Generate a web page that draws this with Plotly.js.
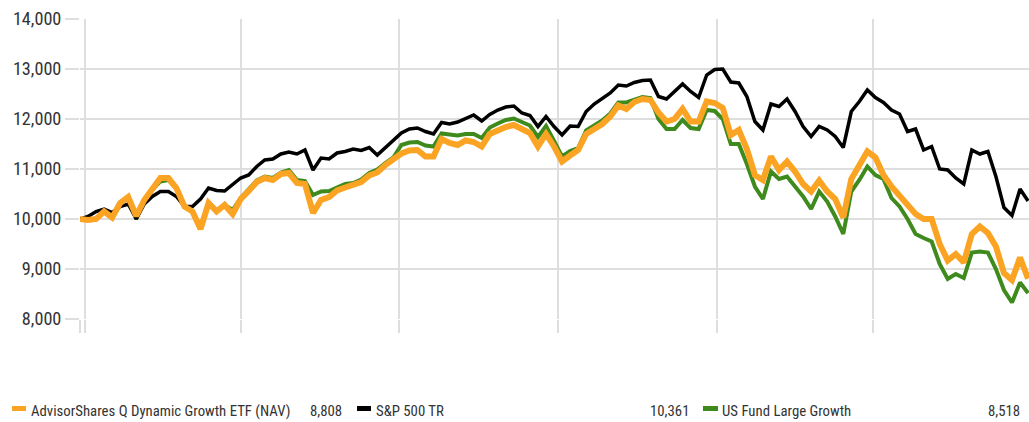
<!DOCTYPE html>
<html>
<head>
<meta charset="utf-8">
<script src="https://cdn.plot.ly/plotly-3.0.1.min.js"></script>
<style>html,body{margin:0;padding:0;background:#fff;}#chart{width:1029px;height:422px;}</style>
</head>
<body>
<div id="chart"></div>
<script>
// Growth of 10,000 — samples every ~4.64 days from 2020-12-28 to 2022-06-29
const startDate = '2020-12-28 22:30';
const endDate = '2022-06-30 02:00';
const stepDays = 4.6407;
const quarterTicks = ['2020-12-28 22:30','2021-01-01','2021-04-01','2021-07-01','2021-10-01','2022-01-01','2022-04-01'];
const yTicks = [8000, 9000, 10000, 11000, 12000, 13000, 14000];

const seriesNames = ['AdvisorShares Q Dynamic Growth ETF (NAV)', 'S&P 500 TR', 'US Fund Large Growth'];

const advisorShares = [10000,9980,10000,10150,10030,10320,10440,10060,10380,10620,10820,10820,10620,10250,10150,9800,10320,10150,10280,10100,
10400,10560,10740,10820,10780,10900,10920,10720,10700,10120,10380,10440,10570,10630,10670,10740,10870,10930,11080,11180,
11310,11370,11380,11250,11250,11600,11520,11480,11570,11540,11450,11700,11780,11840,11880,11790,11720,11450,11700,11450,
11150,11270,11380,11700,11800,11900,12050,12270,12200,12340,12400,12380,12130,11950,12000,12200,11950,11950,12350,12320,
12220,11680,11780,11400,10880,10780,11250,10980,11150,10950,10700,10550,10770,10550,10400,10030,10800,11050,11350,11230,
10880,10650,10470,10280,10100,10000,10000,9500,9170,9300,9130,9700,9850,9720,9450,8920,8780,9230,8808];

const sp500TR = [10000,10050,10150,10200,10130,10250,10300,10000,10300,10450,10550,10550,10450,10250,10250,10400,10620,10570,10560,10680,
10820,10880,11050,11180,11200,11300,11340,11300,11380,10980,11220,11200,11320,11350,11400,11370,11430,11280,11420,11570,
11720,11800,11820,11750,11700,11930,11900,11940,12010,12080,11960,12090,12180,12240,12260,12120,12070,11850,12050,11850,
11680,11860,11850,12150,12300,12400,12520,12680,12660,12730,12770,12780,12450,12400,12560,12700,12550,12430,12880,12990,
13000,12740,12720,12450,11950,11780,12300,12250,12400,12150,11850,11650,11850,11780,11650,11430,12150,12350,12580,12430,
12330,12180,12100,11750,11800,11380,11450,11000,10980,10820,10700,11380,11300,11350,10850,10230,10070,10600,10361];

const usFundLargeGrowth = [10000,9980,10000,10150,10030,10300,10420,10000,10350,10580,10750,10780,10600,10250,10150,9850,10330,10170,10280,10180,
10420,10590,10770,10850,10820,10930,10980,10780,10760,10480,10550,10560,10640,10700,10720,10790,10920,10990,11120,11230,
11480,11530,11540,11470,11450,11710,11690,11670,11700,11700,11620,11830,11910,11980,12010,11940,11870,11640,11860,11560,
11250,11360,11420,11770,11880,11970,12110,12330,12330,12380,12440,12420,12000,11800,11800,11980,11820,11800,12180,12160,
12000,11500,11500,11100,10650,10400,10950,10800,10850,10650,10450,10200,10550,10350,10050,9700,10550,10780,11050,10880,
10800,10420,10250,10000,9700,9620,9550,9100,8800,8900,8820,9330,9350,9330,9000,8580,8330,8730,8518];

const colors = {orange: '#fba424', black: '#000000', green: '#3f8a1d'};
const gridColor = '#dedede';
const textColor = '#333333';

// pick the narrowest installed sans family, then size text so widths match the reference
const ctx = document.createElement('canvas').getContext('2d');
function hasFont(name) {
  const s = 'AdvisorShares 14,000 mmmwwwiii';
  let ok = false;
  ['monospace', 'serif'].forEach(g => {
    ctx.font = '40px ' + g; const a = ctx.measureText(s).width;
    ctx.font = '40px "' + name + '", ' + g; const b = ctx.measureText(s).width;
    if (Math.abs(a - b) > 0.5) ok = true;
  });
  return ok;
}
const candidates = ['Liberation Sans Narrow', 'Arial Narrow', 'Roboto Condensed', 'DejaVu Sans Condensed', 'Open Sans Condensed', 'Roboto', 'Liberation Sans', 'Noto Sans'];
const family = candidates.find(hasFont) || 'sans-serif';
const fontFam = '"' + family + '", sans-serif';
function sizeFor(text, targetW) {
  ctx.font = '100px ' + fontFam;
  return Math.round(100 * targetW / ctx.measureText(text).width * 10) / 10;
}
const legSize = Math.min(16, sizeFor(seriesNames[0], 259));
const tickSize = Math.min(19.5, sizeFor('14,000', 48.5));

const dxMs = stepDays * 86400000;
function trace(y, color, width, name) {
  return {type: 'scatter', mode: 'lines', x0: startDate, dx: dxMs, y: y, name: name,
    line: {color: color, width: width, shape: 'linear'}, hoverinfo: 'skip'};
}
const data = [
  trace(usFundLargeGrowth, colors.green, 4, seriesNames[2]),
  trace(sp500TR, colors.black, 3.5, seriesNames[1]),
  trace(advisorShares, colors.orange, 6, seriesNames[0])
];

function px(p) { return (p - 80) / 949; }
const legY = (319 - 411) / 300;
const swY = (319 - 408.5) / 300;
const fmt = v => v.toLocaleString('en-US');
const legFont = {family: fontFam, size: legSize, color: textColor};
const annotations = [
  {text: seriesNames[0], x: px(29), xanchor: 'left'},
  {text: fmt(advisorShares[advisorShares.length-1]), x: px(344), xanchor: 'right'},
  {text: seriesNames[1], x: px(374), xanchor: 'left'},
  {text: fmt(sp500TR[sp500TR.length-1]), x: px(691), xanchor: 'right'},
  {text: seriesNames[2], x: px(720), xanchor: 'left'},
  {text: fmt(usFundLargeGrowth[usFundLargeGrowth.length-1]), x: px(1022), xanchor: 'right'}
].map(a => Object.assign({xref: 'paper', yref: 'paper', y: legY, yanchor: 'middle', showarrow: false, font: legFont}, a));

const swatch = (x0, x1, c) => ({type: 'line', xref: 'paper', yref: 'paper', x0: px(x0), x1: px(x1), y0: swY, y1: swY, line: {color: c, width: 5}});
const shapes = [swatch(12, 26, colors.orange), swatch(357, 371, colors.black), swatch(703, 718, colors.green)];

const layout = {
  width: 1029, height: 422,
  margin: {l: 80, r: 0, t: 19, b: 103, pad: 0},
  paper_bgcolor: '#fff', plot_bgcolor: '#fff',
  showlegend: false,
  xaxis: {type: 'date', range: [startDate, endDate], tickmode: 'array', tickvals: quarterTicks,
    showticklabels: false, showgrid: true, gridcolor: gridColor, gridwidth: 2,
    ticks: 'outside', ticklen: 13, tickwidth: 2, tickcolor: gridColor, zeroline: false, showline: false, fixedrange: true},
  yaxis: {range: [8000, 14000], tickmode: 'array', tickvals: yTicks, tickformat: ',d',
    showgrid: true, gridcolor: gridColor, gridwidth: 2, ticks: 'outside', ticklen: 14, tickwidth: 2, tickcolor: gridColor,
    zeroline: false, showline: false, tickfont: {family: fontFam, size: tickSize, color: textColor}, fixedrange: true},
  annotations: annotations,
  shapes: shapes
};
Plotly.newPlot('chart', data, layout, {displayModeBar: false, staticPlot: true});
</script>
</body>
</html>
